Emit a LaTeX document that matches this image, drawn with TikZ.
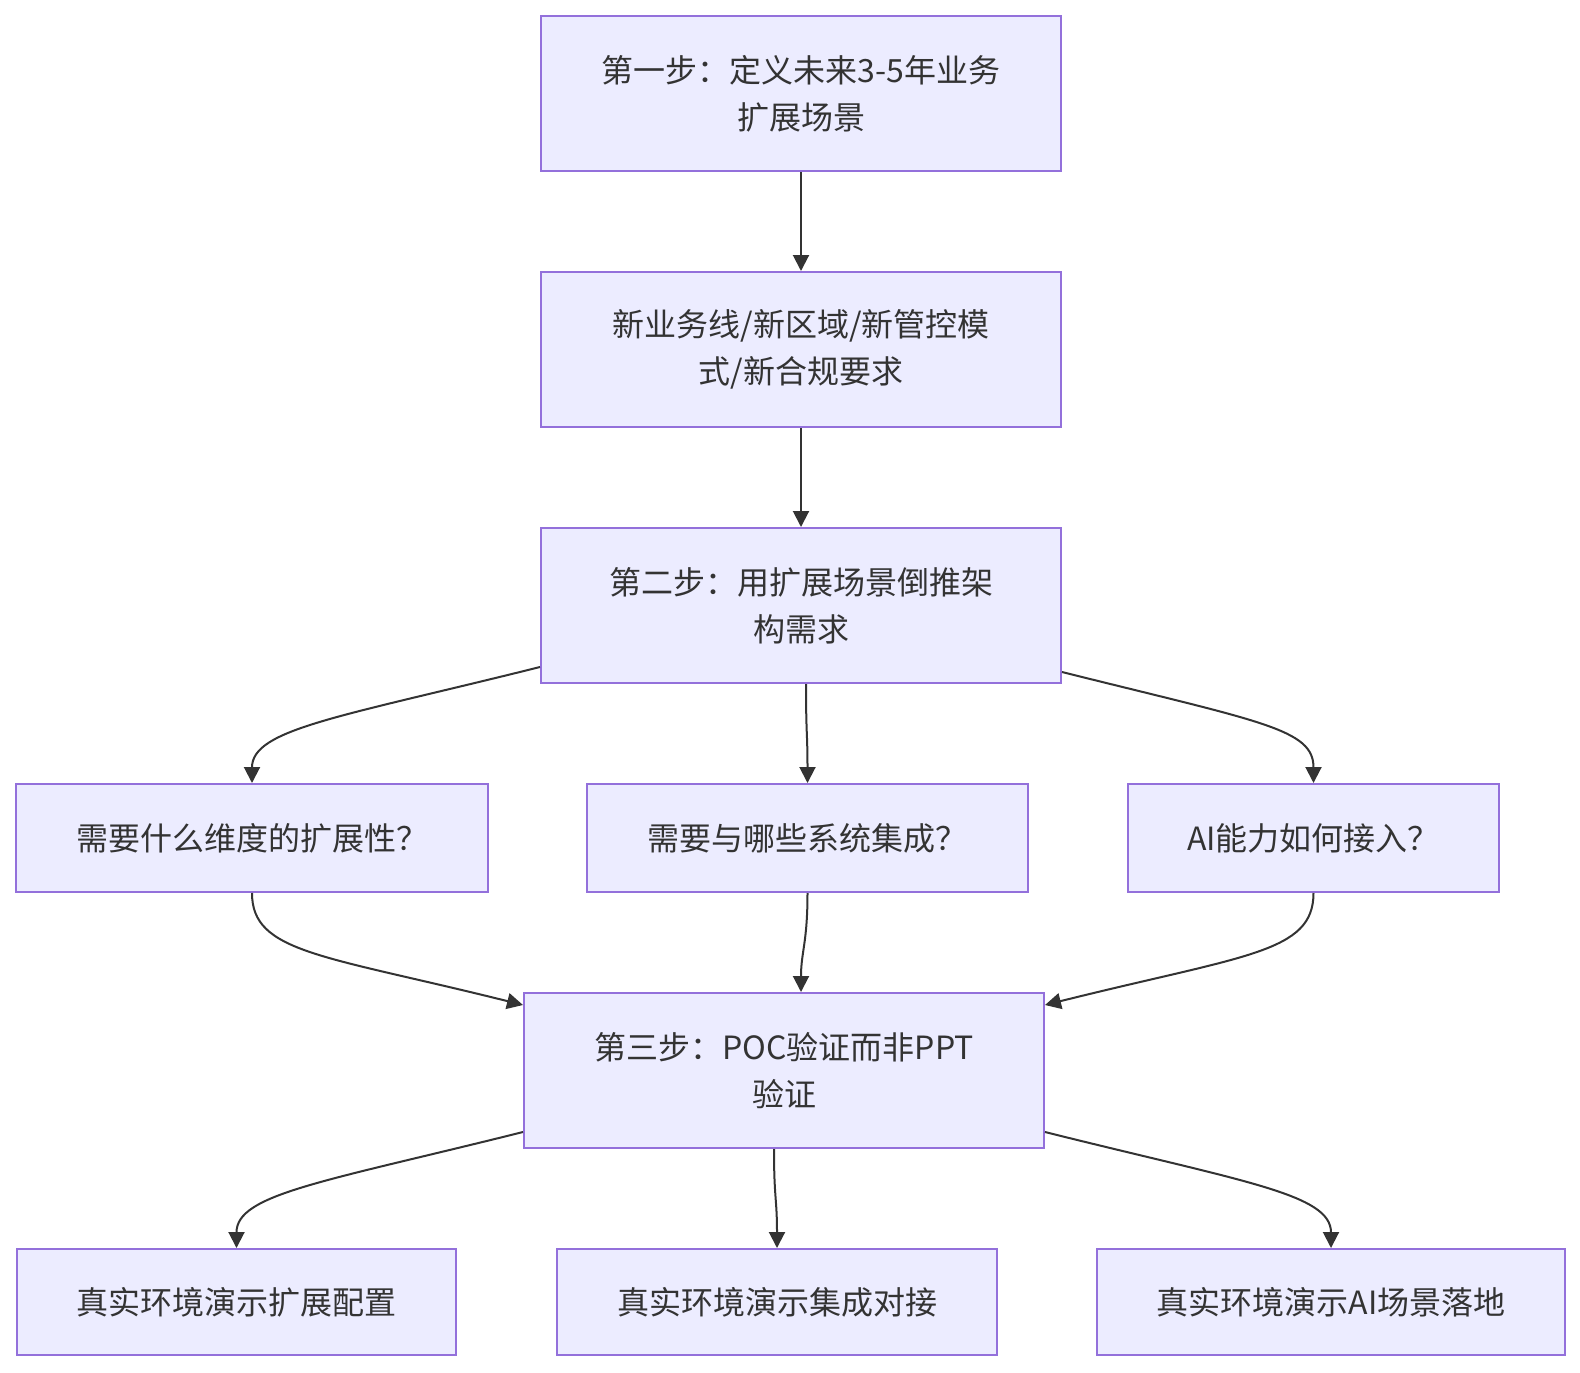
\documentclass[tikz,border=0pt]{standalone}
\usepackage{fontspec}
\setmainfont{Noto Sans CJK SC}
\usetikzlibrary{arrows.meta}
\definecolor{boxfill}{HTML}{ECECFF}
\definecolor{boxline}{HTML}{9370DB}
\definecolor{ink}{HTML}{333333}
\begin{document}
\begin{tikzpicture}[x=0.5pt,y=-0.5pt]
\useasboundingbox (0,0) rectangle (1580,1372);
 \begin{scope}[every node/.style={draw=boxline, fill=boxfill, line width=1pt,
   text=ink, align=center, inner sep=0pt, font=\fontsize{16}{23.5}\selectfont}]
  \node[minimum width=260pt, minimum height=77.5pt] (s1) at (801,93.5) {第一步：定义未来3-5年业务\\扩展场景};
  \node[minimum width=260pt, minimum height=77.5pt] (sc) at (801,349.5) {新业务线/新区域/新管控模\\式/新合规要求};
  \node[minimum width=260pt, minimum height=77.5pt] (s2) at (801,605.5) {第二步：用扩展场景倒推架\\构需求};
  \node[minimum width=236pt, minimum height=54pt] (q1) at (252,838) {需要什么维度的扩展性？};
  \node[minimum width=220.5pt, minimum height=54pt] (q2) at (807.5,838) {需要与哪些系统集成？};
  \node[minimum width=185.5pt, minimum height=54pt] (q3) at (1313.5,838) {AI能力如何接入？};
  \node[minimum width=260pt, minimum height=77.5pt] (s3) at (784,1070.5) {第三步：POC验证而非PPT\\验证};
  \node[minimum width=219.5pt, minimum height=53pt] (r1) at (236.5,1302) {真实环境演示扩展配置};
  \node[minimum width=220pt, minimum height=53pt] (r2) at (777,1302) {真实环境演示集成对接};
  \node[minimum width=234pt, minimum height=53pt] (r3) at (1331,1302) {真实环境演示AI场景落地};
 \end{scope}
 \begin{scope}[draw=ink, line width=1pt, -{Triangle[length=8pt,width=8pt]}]
  \draw (s1) -- (sc);
  \draw (sc) -- (s2);
  \draw ([yshift=8.5pt]s2.south west) .. controls +(-200,50) and +(0,-54) .. (q1.north);
  \draw ([xshift=2.5pt]s2.south) .. controls +(0,50) and +(0,-50) .. (q2.north);
  \draw ([yshift=6pt]s2.south east) .. controls +(200,50) and +(0,-54) .. (q3.north);
  \draw (q1.south) .. controls +(0,60) and +(-200,-50) .. ([yshift=-6.5pt]s3.north west);
  \draw (q2.south) .. controls +(0,50) and +(0,-40) .. ([xshift=8.5pt]s3.north);
  \draw (q3.south) .. controls +(0,60) and +(200,-50) .. ([yshift=-6.5pt]s3.north east);
  \draw ([yshift=8.5pt]s3.south west) .. controls +(-200,50) and +(0,-54) .. (r1.north);
  \draw ([xshift=-5pt]s3.south) .. controls +(0,50) and +(0,-50) .. (r2.north);
  \draw ([yshift=8.5pt]s3.south east) .. controls +(200,50) and +(0,-54) .. (r3.north);
 \end{scope}
\end{tikzpicture}
\end{document}
